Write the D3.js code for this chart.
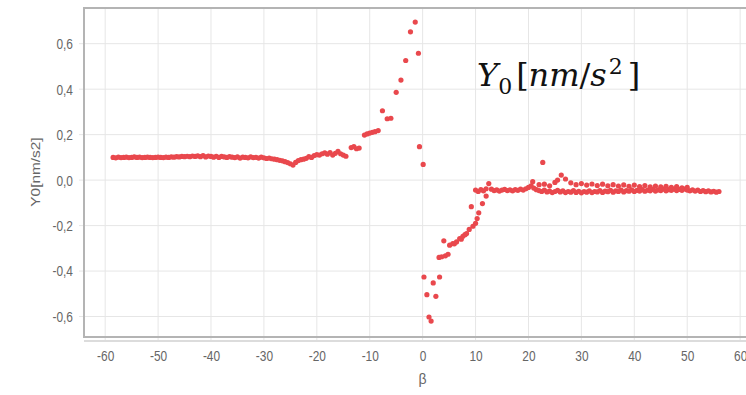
<!DOCTYPE html>
<html>
<head>
<meta charset="utf-8">
<script src="https://cdn.jsdelivr.net/npm/d3@7"></script>
<style>
  body { margin: 0; background: #fff; }
  .tick-label { font-family: "Liberation Sans", sans-serif; font-size: 14px; fill: #666; }
</style>
</head>
<body>
<div id="chart"></div>
<script>
// tick labels (comma decimal like the original)
var xTicks = [-60, -50, -40, -30, -20, -10, 0, 10, 20, 30, 40, 50, 60];
var yTicks = [-0.6, -0.4, -0.2, 0.0, 0.2, 0.4, 0.6];
var yTickLabels = ["-0,6", "-0,4", "-0,2", "0,0", "0,2", "0,4", "0,6"];

// left flat part, beta -58.5 .. -25
var betaLeft = [-58.5, -58, -57.5, -57, -56.5, -56, -55.5, -55, -54.5, -54, -53.5, -53, -52.5, -52, -51.5, -51, -50.5, -50,
  -49.5, -49, -48.5, -48, -47.5, -47, -46.5, -46, -45.5, -45, -44.5, -44, -43.5, -43, -42.5, -42, -41.5, -41, -40.5, -40,
  -39.5, -39, -38.5, -38, -37.5, -37, -36.5, -36, -35.5, -35, -34.5, -34, -33.5, -33, -32.5, -32, -31.5, -31, -30.5, -30,
  -29.5, -29, -28.5, -28, -27.5, -27, -26.5, -26, -25.5, -25];
var y0Left = [0.100, 0.098, 0.101, 0.099, 0.100, 0.101, 0.099, 0.100, 0.102, 0.100, 0.101, 0.099, 0.100, 0.101, 0.100, 0.099, 0.100, 0.101,
  0.100, 0.099, 0.101, 0.100, 0.102, 0.101, 0.103, 0.102, 0.104, 0.103, 0.105, 0.103, 0.106, 0.104, 0.107, 0.103, 0.108, 0.102, 0.106, 0.104,
  0.101, 0.105, 0.100, 0.104, 0.102, 0.100, 0.103, 0.101, 0.099, 0.102, 0.097, 0.101, 0.100, 0.098, 0.102, 0.099, 0.100, 0.097, 0.101, 0.098,
  0.095, 0.097, 0.094, 0.092, 0.090, 0.087, 0.085, 0.081, 0.077, 0.072];

// dip, rise towards the peak and the jump at beta = 0
var betaMid = [-24.5, -24, -23.5, -23, -22.5, -22, -21.5, -21, -20.5, -20, -19.5, -19, -18.5, -18, -17.5, -17, -16.5, -16,
  -15.5, -15, -14.5, -13.5, -13, -12.5, -12, -11, -10.5, -10, -9.5, -9, -8.4, -7.6, -6.7, -6, -5, -4.1, -3.2, -2.3, -1.4,
  -0.8, -0.6, 0.1];
var y0Mid = [0.066, 0.078, 0.086, 0.090, 0.092, 0.096, 0.103, 0.100, 0.108, 0.112, 0.110, 0.116, 0.120, 0.114, 0.121, 0.110, 0.118, 0.126,
  0.116, 0.110, 0.105, 0.143, 0.147, 0.138, 0.141, 0.198, 0.203, 0.207, 0.210, 0.213, 0.218, 0.305, 0.270, 0.272, 0.386, 0.440, 0.526, 0.652, 0.695,
  0.558, 0.147, 0.069];

// negative branch after the jump
var betaLow = [0.25, 0.8, 1.2, 1.6, 2.0, 2.5, 3.2, 3.1, 3.6, 4.0, 4.3, 4.8, 5.1, 5.7, 6.0, 6.4, 7.0, 7.3, 7.6, 8.0, 8.3, 8.8,
  9.2, 9.5, 10.0, 10.3, 10.6, 11.3, 12.0];
var y0Low = [-0.426, -0.504, -0.602, -0.620, -0.452, -0.511, -0.426, -0.340, -0.337, -0.267, -0.333, -0.326, -0.286, -0.279, -0.280, -0.272, -0.257, -0.260, -0.247, -0.240, -0.235, -0.217,
  -0.117, -0.203, -0.190, -0.169, -0.144, -0.103, -0.070];

// plateau, main band
var betaPlateau = [10, 10.5, 11, 11.5, 12, 12.5, 13, 13.5, 14, 14.5, 15, 15.5, 16, 16.5, 17, 17.5, 18, 18.5, 19, 19.5,
  20, 20.5, 21, 21.5, 22, 22.5, 23, 23.5, 24, 24.5, 25, 25.5, 26, 26.5, 27, 27.5, 28, 28.5, 29, 29.5, 30, 30.5, 31, 31.5,
  32, 32.5, 33, 33.5, 34, 34.5, 35, 35.5, 36, 36.5, 37, 37.5, 38, 38.5, 39, 39.5, 40, 40.5, 41, 41.5, 42, 42.5, 43, 43.5,
  44, 44.5, 45, 45.5, 46, 46.5, 47, 47.5, 48, 48.5, 49, 49.5, 50, 50.5, 51, 51.5, 52, 52.5, 53, 53.5, 54, 54.5, 55, 55.5, 56];
var y0Plateau = [-0.044, -0.050, -0.042, -0.047, -0.038, -0.015, -0.040, -0.046, -0.043, -0.048, -0.044, -0.041, -0.046, -0.043, -0.047, -0.042, -0.045, -0.040, -0.044, -0.038,
  -0.032, -0.025, -0.035, -0.042, -0.046, -0.050, -0.044, -0.052, -0.048, -0.055, -0.050, -0.045, -0.052, -0.047, -0.055, -0.050, -0.053, -0.046, -0.054, -0.049, -0.056, -0.050, -0.053, -0.047,
  -0.055, -0.050, -0.052, -0.046, -0.054, -0.048, -0.051, -0.045, -0.053, -0.047, -0.050, -0.044, -0.052, -0.046, -0.049, -0.043, -0.050, -0.045, -0.048, -0.042, -0.049, -0.044, -0.047, -0.041,
  -0.048, -0.043, -0.046, -0.040, -0.047, -0.042, -0.045, -0.040, -0.046, -0.041, -0.045, -0.039, -0.044, -0.047, -0.043, -0.048, -0.044, -0.050, -0.046, -0.051, -0.047, -0.052, -0.049, -0.053, -0.050];

// plateau, upper band + outliers
var betaUpper = [20.8, 22, 22.7, 23, 24, 25, 25.5, 26.2, 27, 28, 29, 30, 31, 32, 33, 34, 35, 36, 37, 38, 39, 40, 41, 42, 43,
  44, 45, 46, 47, 48, 49, 50];
var y0Upper = [-0.007, -0.020, 0.078, -0.018, -0.025, -0.010, 0.000, 0.022, 0.005, -0.012, -0.020, -0.015, -0.022, -0.017, -0.024, -0.018, -0.025, -0.020, -0.026, -0.021, -0.027, -0.022, -0.028, -0.024, -0.030,
  -0.026, -0.030, -0.027, -0.032, -0.029, -0.034, -0.032];

var beta = betaLeft.concat(betaMid, betaLow, betaPlateau, betaUpper);
var y0 = y0Left.concat(y0Mid, y0Low, y0Plateau, y0Upper);
var points = beta.map(function(b, i){ return {beta: b, y0: y0[i]}; });

var width = 746, height = 395;
var svg = d3.select("#chart").append("svg").attr("width", width).attr("height", height);

// plot frame goes a bit past the right edge of the picture
var pLeft = 84, pTop = 8, pRight = 756, pBottom = 337;
var x = d3.scaleLinear().domain([-64, 63]).range([pLeft, pRight]);
var y = d3.scaleLinear().domain([-0.69, 0.757]).range([pBottom, pTop]);

// grid
var grid = svg.append("g");
grid.selectAll(".vg").data(xTicks).enter().append("line")
  .attr("x1", function(d){ return x(d); }).attr("x2", function(d){ return x(d); })
  .attr("y1", pTop).attr("y2", pBottom + 4)
  .attr("stroke", "#e6e6e6").attr("stroke-width", 1);
grid.selectAll(".hg").data(yTicks).enter().append("line")
  .attr("y1", function(d){ return y(d); }).attr("y2", function(d){ return y(d); })
  .attr("x1", pLeft - 5).attr("x2", pRight)
  .attr("stroke", "#e6e6e6").attr("stroke-width", 1);

// frame with a light shadow at the bottom
svg.append("line").attr("x1", pLeft).attr("x2", pRight).attr("y1", pBottom + 4).attr("y2", pBottom + 4)
  .attr("stroke", "#dcdcdc").attr("stroke-width", 2);
svg.append("rect").attr("x", pLeft).attr("y", pTop).attr("width", pRight - pLeft).attr("height", pBottom - pTop)
  .attr("fill", "none").attr("stroke", "#b4b4b4").attr("stroke-width", 2);

// axes (only the labels are kept)
var xAxis = svg.append("g").attr("transform", "translate(0," + pBottom + ")")
  .call(d3.axisBottom(x).tickValues(xTicks).tickSize(0).tickPadding(12).tickFormat(function(d){ return String(d); }));
var yAxis = svg.append("g").attr("transform", "translate(" + pLeft + ",0)")
  .call(d3.axisLeft(y).tickValues(yTicks).tickSize(0).tickPadding(13).tickFormat(function(d, i){ return yTickLabels[i]; }));
[xAxis, yAxis].forEach(function(a){
  a.select(".domain").remove();
  // the original font is a narrow one, squeeze it
  a.selectAll("text").attr("class", "tick-label").attr("fill", null).attr("transform", "scale(0.85,1.1)");
  a.attr("font-family", null).attr("font-size", null);
});

svg.append("text").attr("class", "tick-label").attr("x", x(0)).attr("y", 384).attr("text-anchor", "middle").text("β");
svg.append("text").attr("class", "tick-label")
  .attr("transform", "translate(40," + 172 + ") rotate(-90) scale(1.1,0.85)")
  .attr("text-anchor", "middle").text("Y0[nm/s2]");

// points
svg.append("g").selectAll("circle").data(points).enter().append("circle")
  .attr("cx", function(d){ return x(d.beta); })
  .attr("cy", function(d){ return y(d.y0); })
  .attr("r", 2.6)
  .attr("fill", "#e9484d");

// big formula label
var t = svg.append("text").attr("x", 477).attr("y", 86)
  .attr("font-family", "'DejaVu Serif', 'Liberation Serif', serif").attr("font-size", 32).attr("fill", "#111");
t.append("tspan").attr("font-style", "italic").text("Y");
t.append("tspan").attr("font-size", 22).attr("dy", 8).text("0");
t.append("tspan").attr("dy", -8).attr("dx", 4).text("[");
t.append("tspan").attr("font-style", "italic").text("nm");
t.append("tspan").text("/");
t.append("tspan").attr("font-style", "italic").text("s");
t.append("tspan").attr("font-size", 22).attr("dy", -12).attr("dx", 2).text("2");
t.append("tspan").attr("dy", 12).attr("dx", 5).text("]");
</script>
</body>
</html>
